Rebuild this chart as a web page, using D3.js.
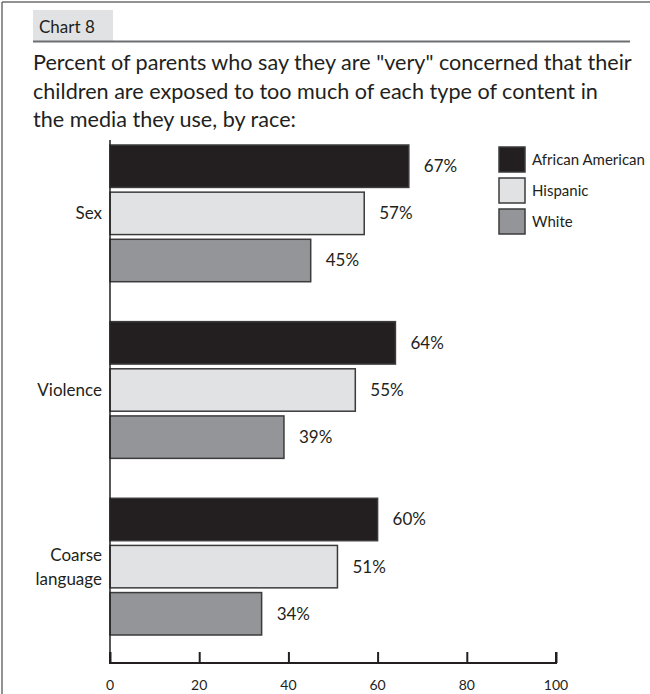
<!DOCTYPE html>
<html>
<head>
<meta charset="utf-8">
<script src="https://cdn.jsdelivr.net/npm/d3@7"></script>
<style>
  html, body { margin: 0; padding: 0; background: #fff; }
  svg { display: block; }
  text { font-family: Lato, "Open Sans", sans-serif; fill: #231f20; }
</style>
</head>
<body>
<svg id="chart" width="650" height="694"></svg>
<script>
const categories = ["Sex", "Violence", "Coarse language"];
const seriesNames = ["African American", "Hispanic", "White"];
const africanAmerican = [67, 64, 60];
const hispanic = [57, 55, 51];
const white = [45, 39, 34];
const xTicks = [0, 20, 40, 60, 80, 100];
const titleLines = [
  "Percent of parents who say they are \"very\" concerned that their",
  "children are exposed to too much of each type of content in",
  "the media they use, by race:"
];

const seriesValues = [africanAmerican, hispanic, white];
const colors = ["#231f20", "#e1e2e3", "#939598"];

const svg = d3.select("#chart");

// frame (left & top)
svg.append("line").attr("x1", 2).attr("x2", 2).attr("y1", 2).attr("y2", 694)
  .attr("stroke", "#6d6e71").attr("stroke-width", 1.5);
svg.append("line").attr("x1", 2).attr("x2", 650).attr("y1", 2).attr("y2", 2)
  .attr("stroke", "#6d6e71").attr("stroke-width", 1.5);

// header box
svg.append("rect").attr("x", 33).attr("y", 10).attr("width", 80).attr("height", 31)
  .attr("fill", "#e1e2e3");
svg.append("text").attr("x", 39).attr("y", 33).attr("font-size", 17).text("Chart 8");
svg.append("line").attr("x1", 33).attr("x2", 630).attr("y1", 41.5).attr("y2", 41.5)
  .attr("stroke", "#6d6e71").attr("stroke-width", 2);

// title
const t0 = svg.append("text").attr("x", 33).attr("y", 70).attr("font-size", 20).text(titleLines[0]);
const w0 = t0.node().getComputedTextLength();
const titleSize = 20 * 599 / w0;
t0.attr("font-size", titleSize);
titleLines.slice(1).forEach((l, i) => {
  svg.append("text").attr("x", 33).attr("y", 70 + 28.5 * (i + 1)).attr("font-size", titleSize).text(l);
});

// scales
const x = d3.scaleLinear().domain([0, 100]).range([110, 556]);
const y0 = d3.scaleBand().domain(categories).range([145, 635]).paddingInner(0.226).paddingOuter(0);
const y1 = d3.scaleBand().domain(seriesNames).range([0, y0.bandwidth()]).paddingInner(0.1).paddingOuter(0);

const rows = [];
categories.forEach((c, ci) => {
  seriesNames.forEach((s, si) => rows.push({ cat: c, series: s, si, value: seriesValues[si][ci] }));
});

const g = svg.append("g");
g.selectAll("rect.bar").data(rows).join("rect")
  .attr("class", "bar")
  .attr("x", x(0))
  .attr("y", d => y0(d.cat) + y1(d.series))
  .attr("width", d => x(d.value) - x(0))
  .attr("height", y1.bandwidth())
  .attr("fill", d => colors[d.si])
  .attr("stroke", "#3b3b3c")
  .attr("stroke-width", 1.5);

g.selectAll("text.val").data(rows).join("text")
  .attr("class", "val")
  .attr("x", d => x(d.value) + 15)
  .attr("y", d => y0(d.cat) + y1(d.series) + y1.bandwidth() / 2)
  .attr("dy", "0.35em")
  .attr("font-size", 17)
  .text(d => d.value + "%");

// category labels
categories.forEach(c => {
  const cy = y0(c) + y1("Hispanic") + y1.bandwidth() / 2;
  const words = c === "Coarse language" ? ["Coarse", "language"] : [c];
  words.forEach((w, i) => {
    svg.append("text").attr("x", 102).attr("text-anchor", "end")
      .attr("y", cy + (i - (words.length - 1) / 2) * 24).attr("dy", "0.35em")
      .attr("font-size", 17).text(w);
  });
});

// y axis line
svg.append("line").attr("x1", x(0)).attr("x2", x(0)).attr("y1", 140).attr("y2", 663)
  .attr("stroke", "#231f20").attr("stroke-width", 1.5);

// x axis
const xAxis = svg.append("g").attr("transform", "translate(0,663)")
  .call(d3.axisTop(x).tickValues(xTicks).tickSize(11).tickFormat(""));
xAxis.select(".domain").attr("stroke", "#231f20").attr("stroke-width", 2)
  .attr("d", `M${x(0)},-11V0H${x(100)}V-11`);
xAxis.selectAll(".tick line").attr("stroke", "#231f20").attr("stroke-width", 2);
svg.selectAll("text.tl").data(xTicks).join("text")
  .attr("class", "tl").attr("x", d => x(d)).attr("y", 690)
  .attr("text-anchor", "middle").attr("font-size", 14).text(d => d);

// legend
const leg = svg.append("g");
seriesNames.forEach((s, i) => {
  const ly = 147 + i * 31;
  leg.append("rect").attr("x", 499).attr("y", ly).attr("width", 26).attr("height", 25)
    .attr("fill", colors[i]).attr("stroke", "#3b3b3c").attr("stroke-width", 1.5);
  leg.append("text").attr("x", 532).attr("y", ly + 13).attr("dy", "0.35em")
    .attr("font-size", 15).text(s);
});
</script>
</body>
</html>
